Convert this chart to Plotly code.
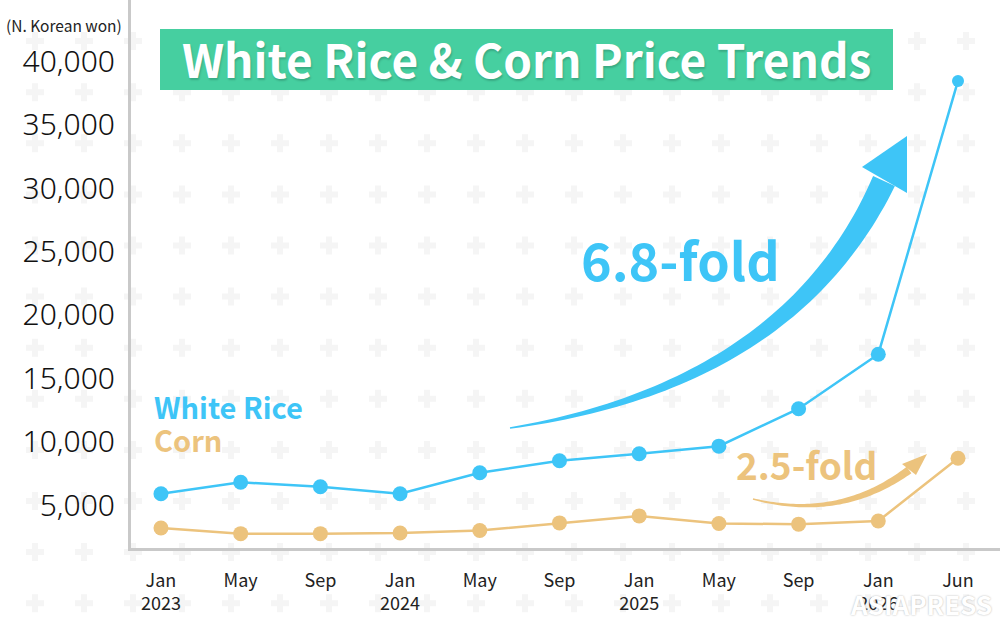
import numpy as np
import plotly.graph_objects as go

W, H = 1000, 632

# ---- data (N. Korean won) ----
months = ["Jan", "May", "Sep", "Jan", "May", "Sep", "Jan", "May", "Sep", "Jan", "Jun"]
years = ["2023", "", "", "2024", "", "", "2025", "", "", "2026", ""]
rice = [5900, 6800, 6450, 5900, 7550, 8500, 9050, 9650, 12600, 16900, 38450]
corn = [3200, 2750, 2750, 2800, 3000, 3600, 4150, 3550, 3500, 3750, 8700]
y_ticks = [5000, 10000, 15000, 20000, 25000, 30000, 35000, 40000]

BLUE = "#3EC5F7"
TAN = "#ECC37D"
GREEN = "#46CFA0"
FONT = "Noto Sans CJK JP"


def px(x, y):
    # pixel -> paper coords
    return x / W, 1 - y / H


def arrow_path(p0, p1, p2, w0, w1, n=60):
    # tapered quadratic bezier shaft, returns svg path in paper coords
    t = np.linspace(0, 1, n)[:, None]
    p0, p1, p2 = map(np.array, (p0, p1, p2))
    pts = (1 - t) ** 2 * p0 + 2 * (1 - t) * t * p1 + t ** 2 * p2
    d = 2 * (1 - t) * (p1 - p0) + 2 * t * (p2 - p1)
    d = d / np.linalg.norm(d, axis=1)[:, None]
    nrm = np.column_stack([-d[:, 1], d[:, 0]])
    w = (w0 + (w1 - w0) * t) / 2
    a = pts + nrm * w
    b = (pts - nrm * w)[::-1]
    poly = np.vstack([a, b])
    return "M " + " L ".join("%.4f,%.4f" % px(x, y) for x, y in poly) + " Z"


def tri_path(pts):
    return "M " + " L ".join("%.4f,%.4f" % px(x, y) for x, y in pts) + " Z"


ticktext = [m + ("<br>" + y if y else "") for m, y in zip(months, years)]
xs = list(range(len(months)))

# background plus pattern
gx, gy = np.meshgrid(np.arange(35, 1000, 49), np.arange(-10, 640, 51.1))

fig = go.Figure()
fig.add_trace(go.Scatter(x=gx.ravel(), y=gy.ravel(), mode="markers",
                         marker=dict(symbol="cross", size=15, color="#f5f5f5", line_width=0),
                         hoverinfo="skip", showlegend=False, xaxis="x", yaxis="y"))

fig.add_trace(go.Scatter(x=xs, y=corn, mode="lines+markers", name="Corn",
                         line=dict(color=TAN, width=2.5),
                         marker=dict(size=15, color=TAN, opacity=1, line_width=0),
                         showlegend=False, xaxis="x2", yaxis="y2"))
fig.add_trace(go.Scatter(x=xs, y=rice, mode="lines+markers", name="White Rice",
                         line=dict(color=BLUE, width=2.5),
                         marker=dict(size=[15] * 10 + [12], color=BLUE, opacity=1, line_width=0),
                         showlegend=False, xaxis="x2", yaxis="y2"))

shapes = []
x0, y1 = px(160, 29)
x1, y0 = px(893, 90)
shapes.append(dict(type="rect", xref="paper", yref="paper", x0=x0, x1=x1, y0=y0, y1=y1,
                   fillcolor=GREEN, line_width=0, layer="above"))
# big blue arrow
shapes.append(dict(type="path", xref="paper", yref="paper", layer="above",
                   path=arrow_path((510, 428), (790, 385), (884, 181), 1.5, 24),
                   fillcolor=BLUE, line_width=0))
shapes.append(dict(type="path", xref="paper", yref="paper", layer="above",
                   path=tri_path([(862, 167), (907, 136), (907, 193)]),
                   fillcolor=BLUE, line_width=0))
# tan arrow
shapes.append(dict(type="path", xref="paper", yref="paper", layer="above",
                   path=arrow_path((753, 499), (840, 521), (909, 470), 1.5, 8),
                   fillcolor=TAN, line_width=0))
shapes.append(dict(type="path", xref="paper", yref="paper", layer="above",
                   path=tri_path([(902, 464), (927, 454), (916, 475)]),
                   fillcolor=TAN, line_width=0))


def note(text, x, y, size, color, family=FONT, shadow=None, xanchor="center"):
    ax, ay = px(x, y)
    f = dict(family=family, size=size, color=color)
    if shadow:
        f["shadow"] = shadow
    return dict(text=text, x=ax, y=ay, xref="paper", yref="paper", showarrow=False,
                xanchor=xanchor, yanchor="middle", font=f)


annotations = [
    note("<b>White Rice &amp; Corn Price Trends</b>", 526, 58, 46, "white",
         shadow="1px 2px 2px rgba(0,0,0,0.18)"),
    note("(N. Korean won)", 64, 25, 15.5, "#222"),
    note("<b>White Rice</b>", 152, 406, 29, BLUE, xanchor="left"),
    note("<b>Corn</b>", 152, 439, 29, TAN, xanchor="left"),
    note("<b>6.8-fold</b>", 680, 258, 52, BLUE),
    note("<b>2.5-fold</b>", 806, 464, 37, TAN),
    note("<b>ASIAPRESS</b>", 921, 603, 26, "white",
         shadow="0px 0px 2px #b0b0b0"),
]

fig.update_layout(
    width=W, height=H,
    margin=dict(l=0, r=0, t=0, b=0),
    paper_bgcolor="white",
    plot_bgcolor="rgba(0,0,0,0)",
    showlegend=False,
    shapes=shapes,
    annotations=annotations,
    xaxis=dict(domain=[0, 1], range=[0, W], visible=False, fixedrange=True),
    yaxis=dict(domain=[0, 1], range=[H, 0], visible=False, fixedrange=True),
    xaxis2=dict(domain=[0.131, 1], anchor="y2", range=[-0.376, 10.527],
                tickvals=xs, ticktext=ticktext, showgrid=False, zeroline=False,
                showline=True, linecolor="#c9c9c9", linewidth=3, ticks="",
                ticklabelstandoff=14, automargin=False,
                tickfont=dict(family=FONT, size=18, color="#222")),
    yaxis2=dict(domain=[1 - 548 / H, 1], anchor="x2", range=[1620, 44830],
                tickvals=y_ticks, tickformat=",", showgrid=False, zeroline=False,
                showline=True, linecolor="#c9c9c9", linewidth=3, ticks="",
                ticklabelstandoff=7, automargin=False,
                tickfont=dict(family="Noto Sans", size=30, color="#111", weight=300)),
)

fig.write_html("out.html", config={"displayModeBar": False},
               post_script="document.body.style.margin='0px';")
